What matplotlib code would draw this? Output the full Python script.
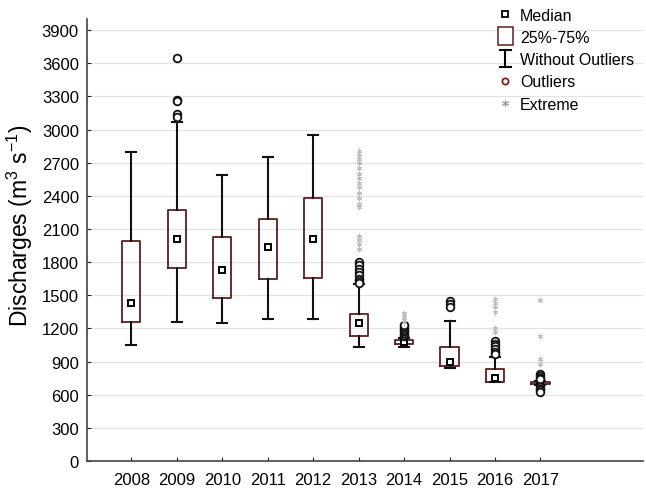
import matplotlib
matplotlib.use("Agg")
import matplotlib.pyplot as plt
from matplotlib.lines import Line2D
from matplotlib.patches import Rectangle
from matplotlib.legend_handler import HandlerBase

plt.rcParams['font.family'] = ['Liberation Sans', 'DejaVu Sans']
plt.rcParams['mathtext.fontset'] = 'custom'
plt.rcParams['mathtext.rm'] = 'Liberation Sans'
plt.rcParams['mathtext.it'] = 'Liberation Sans:italic'
plt.rcParams['mathtext.default'] = 'regular'

years = ['2008', '2009', '2010', '2011', '2012', '2013', '2014', '2015', '2016', '2017']
medians = [1430, 2008, 1725, 1940, 2009, 1252, 1077, 900, 752, 704]
q1 = [1258, 1744, 1478, 1644, 1659, 1136, 1058, 858, 720, 698]
q3 = [1988, 2276, 2025, 2188, 2379, 1329, 1098, 1029, 829, 712]
whis_lo = [1053, 1260, 1252, 1283, 1290, 1028, 1035, 841, 713, 690]
whis_hi = [2800, 3068, 2589, 2755, 2952, 1601, 1118, 1268, 939, 726]
outliers = [
    [],
    [3650, 3268, 3262, 3145, 3118],
    [], [], [],
    [1800, 1770, 1740, 1710, 1680, 1650, 1630, 1610],
    [1130, 1145, 1160, 1175, 1190, 1205, 1220, 1236],
    [1445, 1418, 1395],
    [1085, 1060, 1040, 1010, 985, 968],
    [785, 770, 755, 740, 670, 655, 640, 625],
]
extremes = [
    [], [], [], [], [],
    [2805, 2770, 2735, 2700, 2650, 2600, 2560, 2520, 2480, 2430, 2380, 2330, 2300,
     2035, 2000, 1960, 1920],
    [1255, 1275, 1300, 1320, 1342],
    [],
    [1470, 1430, 1395, 1350, 1205, 1165],
    [1455, 1135, 920, 880],
]

box_color = '#5c1f1f'
ext_color = '#bdbdbd'

fig = plt.figure(figsize=(6.46, 4.89), dpi=100)
ax = fig.add_axes([0.135, 0.055, 0.86, 0.904])

stats = []
for i in range(len(years)):
    stats.append(dict(med=medians[i], q1=q1[i], q3=q3[i], whislo=whis_lo[i],
                      whishi=whis_hi[i], mean=medians[i], fliers=[], label=years[i]))

pos = list(range(len(years)))
ax.bxp(stats, positions=pos, widths=0.4, showmeans=True, showfliers=False,
       boxprops=dict(color=box_color, linewidth=1.3),
       whiskerprops=dict(color='#111111', linewidth=1.5),
       capprops=dict(color='#111111', linewidth=1.5),
       capwidths=0.22,
       medianprops=dict(linestyle='none'),
       meanprops=dict(marker='s', markersize=5, markerfacecolor='white',
                      markeredgecolor='black', markeredgewidth=1.4),
       zorder=3)

for i in range(len(years)):
    if outliers[i]:
        ax.plot([pos[i]] * len(outliers[i]), outliers[i], linestyle='none', marker='o',
                markersize=5.5, markerfacecolor='white', markeredgecolor='#111111',
                markeredgewidth=1.3, zorder=4)
    if extremes[i]:
        ax.plot([pos[i]] * len(extremes[i]), extremes[i], linestyle='none',
                marker=(6, 2, 0), markersize=4, color=ext_color,
                markeredgewidth=0.6, zorder=4)

ax.set_xlim(-0.97, 11.25)
ax.set_ylim(0, 4000)
ax.set_yticks(range(0, 4000, 300))
ax.set_xticks(pos)
ax.set_xticklabels(years)
ax.tick_params(axis='both', direction='in', length=3, labelsize=12, colors='#222222',
               labelcolor='black')
ax.tick_params(axis='y', pad=6)
ax.tick_params(axis='x', pad=8)
ax.yaxis.grid(True, color='#e3e3e3', linewidth=0.9, zorder=0)
ax.set_axisbelow(True)
for s in ['top', 'right']:
    ax.spines[s].set_visible(False)
for s in ['left', 'bottom']:
    ax.spines[s].set_color('#444444')
    ax.spines[s].set_linewidth(1.2)

ax.set_ylabel('Discharges (m$^{3}$ s$^{-1}$)', fontsize=16.5)
ax.yaxis.set_label_coords(-0.094, 0.535)


class IBeamHandler(HandlerBase):
    def create_artists(self, legend, orig_handle, xdescent, ydescent, width, height,
                       fontsize, trans):
        cx = width / 2 - xdescent
        top = height * 1.3
        bot = -height * 0.3
        w = width * 0.35
        l1 = Line2D([cx, cx], [bot, top], color='black', lw=1.5, transform=trans)
        l2 = Line2D([cx - w, cx + w], [top, top], color='black', lw=1.5, transform=trans)
        l3 = Line2D([cx - w, cx + w], [bot, bot], color='black', lw=1.5, transform=trans)
        return [l1, l2, l3]


class BoxHandler(HandlerBase):
    def create_artists(self, legend, orig_handle, xdescent, ydescent, width, height,
                       fontsize, trans):
        w = width * 0.9
        r = Rectangle((width / 2 - w / 2 - xdescent, -height * 0.3), w, height * 1.6,
                      facecolor='white', edgecolor=box_color, lw=1.1, transform=trans)
        return [r]


class IBeam:
    pass


class BoxSym:
    pass


h_med = Line2D([], [], linestyle='none', marker='s', markersize=5, markerfacecolor='white',
               markeredgecolor='black', markeredgewidth=1.3)
h_out = Line2D([], [], linestyle='none', marker='o', markersize=4.5, markerfacecolor='white',
               markeredgecolor='#8b1a1a', markeredgewidth=1.3)
h_ext = Line2D([], [], linestyle='none', marker=(6, 2, 0), markersize=5, color='#a0a0a0',
               markeredgewidth=0.7)

leg = ax.legend([h_med, BoxSym(), IBeam(), h_out, h_ext],
                ['Median', '25%-75%', 'Without Outliers', 'Outliers', 'Extreme'],
                handler_map={IBeam: IBeamHandler(), BoxSym: BoxHandler()},
                loc='upper left', bbox_to_anchor=(0.727, 1.04), frameon=False,
                fontsize=11.5, handlelength=1.0, handletextpad=0.4, labelspacing=0.45,
                borderaxespad=0)
leg.set_zorder(10)

fig.savefig('out.png', dpi=100)
